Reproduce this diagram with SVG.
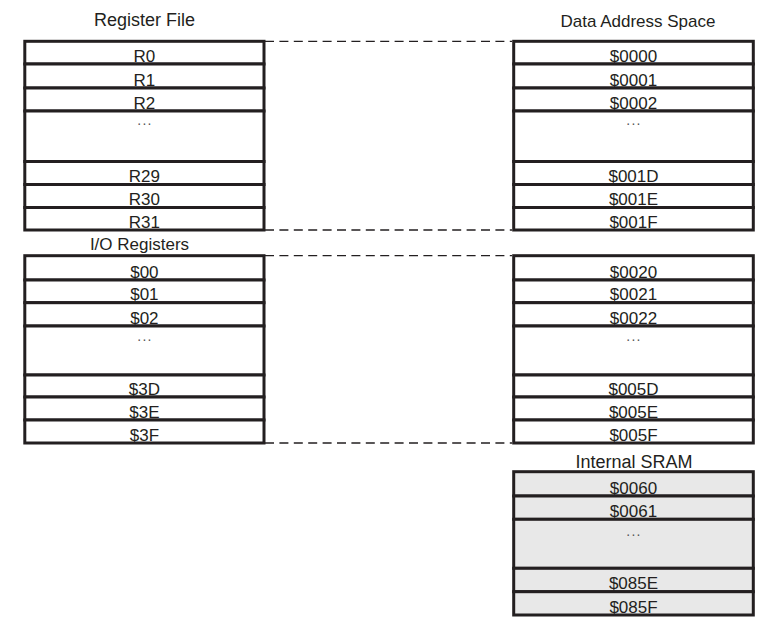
<svg xmlns="http://www.w3.org/2000/svg" width="765" height="631" viewBox="0 0 765 631">
<style>
.cell{fill:#fff;stroke:#231f20;stroke-width:3}
.sram{fill:#e8e8e8;stroke:#231f20;stroke-width:3}
.t{font-family:"Liberation Sans",Arial,sans-serif;font-size:17px;fill:#231f20;text-anchor:middle}
.h{font-family:"Liberation Sans",Arial,sans-serif;font-size:17px;fill:#231f20;text-anchor:middle}
.hl{font-family:"Liberation Sans",Arial,sans-serif;font-size:18px;fill:#231f20;text-anchor:middle}
.d{font-family:"Liberation Sans",Arial,sans-serif;font-size:14px;letter-spacing:1.3px;fill:#555;text-anchor:middle}
.dash{stroke:#231f20;stroke-width:1.3;stroke-dasharray:9 5.4;fill:none}
</style>
<rect width="765" height="631" fill="#fff"/>
<g id="connectors">
<line class="dash" x1="265" y1="41.3" x2="512" y2="41.3"/>
<line class="dash" x1="265" y1="230" x2="512" y2="230"/>
<line class="dash" x1="265" y1="255.7" x2="512" y2="255.7"/>
<line class="dash" x1="265" y1="443" x2="512" y2="443"/>
</g>
<g id="register-file">
<text class="hl" x="144.5" y="26">Register File</text>
<rect class="cell" x="24.8" y="41.3" width="239.2" height="22.7"/>
<rect class="cell" x="24.8" y="64" width="239.2" height="24"/>
<rect class="cell" x="24.8" y="88" width="239.2" height="23"/>
<rect class="cell" x="24.8" y="111" width="239.2" height="50.5"/>
<rect class="cell" x="24.8" y="161.5" width="239.2" height="23"/>
<rect class="cell" x="24.8" y="184.5" width="239.2" height="23"/>
<rect class="cell" x="24.8" y="207.5" width="239.2" height="22.5"/>
<text class="t" x="144.4" y="61.7">R0</text>
<text class="t" x="144.4" y="85.7">R1</text>
<text class="t" x="144.4" y="108.7">R2</text>
<text class="d" x="145" y="125">...</text>
<text class="t" x="144.4" y="182.2">R29</text>
<text class="t" x="144.4" y="205.2">R30</text>
<text class="t" x="144.4" y="227.7">R31</text>
</g>
<g id="data-space-registers">
<text class="h" x="638" y="26.5">Data Address Space</text>
<rect class="cell" x="513.7" y="41.3" width="239.6" height="22.7"/>
<rect class="cell" x="513.7" y="64" width="239.6" height="24"/>
<rect class="cell" x="513.7" y="88" width="239.6" height="23"/>
<rect class="cell" x="513.7" y="111" width="239.6" height="50.5"/>
<rect class="cell" x="513.7" y="161.5" width="239.6" height="23"/>
<rect class="cell" x="513.7" y="184.5" width="239.6" height="23"/>
<rect class="cell" x="513.7" y="207.5" width="239.6" height="22.5"/>
<text class="t" x="633.5" y="61.7">$0000</text>
<text class="t" x="633.5" y="85.7">$0001</text>
<text class="t" x="633.5" y="108.7">$0002</text>
<text class="d" x="634" y="125">...</text>
<text class="t" x="633.5" y="182.2">$001D</text>
<text class="t" x="633.5" y="205.2">$001E</text>
<text class="t" x="633.5" y="227.7">$001F</text>
</g>
<g id="io-registers">
<text class="h" x="139.5" y="249.5">I/O Registers</text>
<rect class="cell" x="24.8" y="255.7" width="239.2" height="24.3"/>
<rect class="cell" x="24.8" y="280" width="239.2" height="22.7"/>
<rect class="cell" x="24.8" y="302.7" width="239.2" height="23.3"/>
<rect class="cell" x="24.8" y="326" width="239.2" height="49"/>
<rect class="cell" x="24.8" y="375" width="239.2" height="22"/>
<rect class="cell" x="24.8" y="397" width="239.2" height="23"/>
<rect class="cell" x="24.8" y="420" width="239.2" height="23"/>
<text class="t" x="144.4" y="277.7">$00</text>
<text class="t" x="144.4" y="300.4">$01</text>
<text class="t" x="144.4" y="323.7">$02</text>
<text class="d" x="145" y="341">...</text>
<text class="t" x="144.4" y="394.7">$3D</text>
<text class="t" x="144.4" y="417.7">$3E</text>
<text class="t" x="144.4" y="440.7">$3F</text>
</g>
<g id="data-space-io">
<rect class="cell" x="513.7" y="255.7" width="239.6" height="24.3"/>
<rect class="cell" x="513.7" y="280" width="239.6" height="22.7"/>
<rect class="cell" x="513.7" y="302.7" width="239.6" height="23.3"/>
<rect class="cell" x="513.7" y="326" width="239.6" height="49"/>
<rect class="cell" x="513.7" y="375" width="239.6" height="22"/>
<rect class="cell" x="513.7" y="397" width="239.6" height="23"/>
<rect class="cell" x="513.7" y="420" width="239.6" height="23"/>
<text class="t" x="633.5" y="277.7">$0020</text>
<text class="t" x="633.5" y="300.4">$0021</text>
<text class="t" x="633.5" y="323.7">$0022</text>
<text class="d" x="634" y="341">...</text>
<text class="t" x="633.5" y="394.7">$005D</text>
<text class="t" x="633.5" y="417.7">$005E</text>
<text class="t" x="633.5" y="440.7">$005F</text>
</g>
<g id="internal-sram">
<text class="hl" x="634" y="468">Internal SRAM</text>
<rect class="sram" x="513.7" y="471.7" width="239.6" height="24.3"/>
<rect class="sram" x="513.7" y="496" width="239.6" height="23.3"/>
<rect class="sram" x="513.7" y="519.3" width="239.6" height="49"/>
<rect class="sram" x="513.7" y="568.3" width="239.6" height="23.4"/>
<rect class="sram" x="513.7" y="591.7" width="239.6" height="23.3"/>
<text class="t" x="633.5" y="493.7">$0060</text>
<text class="t" x="633.5" y="517">$0061</text>
<text class="d" x="634" y="536">...</text>
<text class="t" x="633.5" y="589.4">$085E</text>
<text class="t" x="633.5" y="612.7">$085F</text>
</g>
</svg>
